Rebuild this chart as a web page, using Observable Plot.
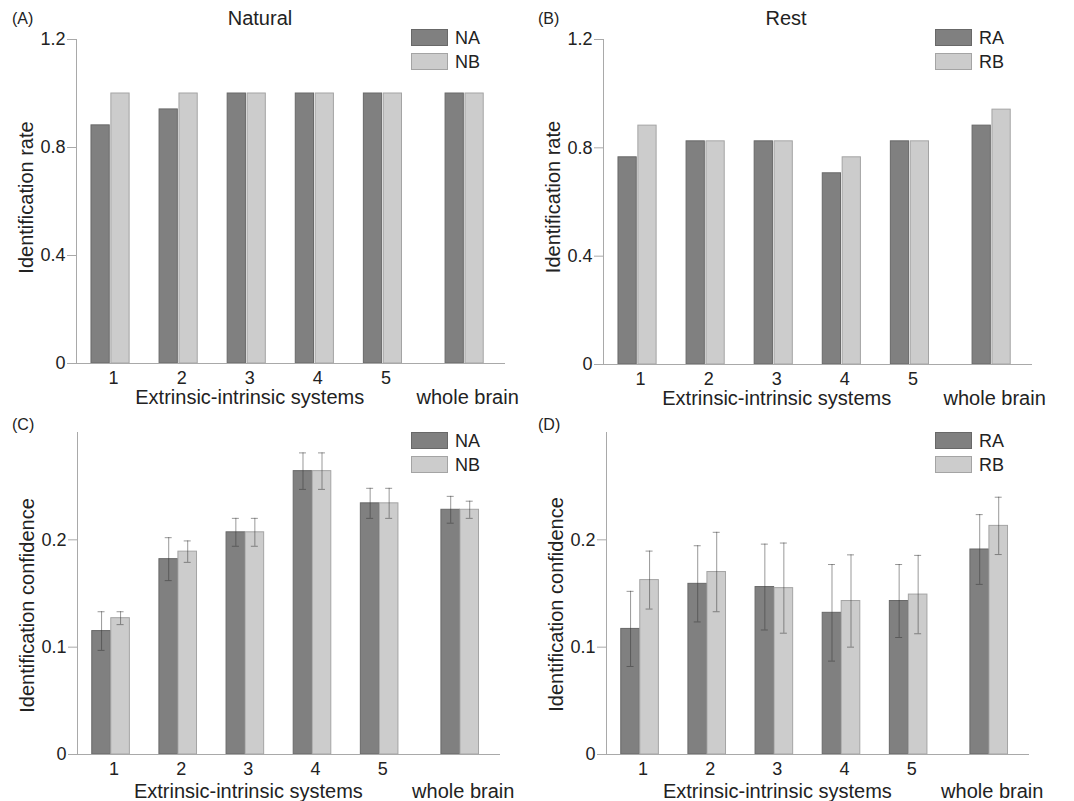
<!DOCTYPE html>
<html>
<head>
<meta charset="utf-8">
<script src="https://cdn.jsdelivr.net/npm/d3@7"></script>
<script src="https://cdn.jsdelivr.net/npm/@observablehq/plot@0.6"></script>
<style>
  html, body { margin: 0; padding: 0; background: #fff; }
  #fig { position: relative; width: 1074px; height: 801px; overflow: hidden; font-family: "Liberation Sans", Arial, sans-serif; color: #222; }
  .panel { position: absolute; }
  .ann { position: absolute; line-height: 1; white-space: nowrap; color: #222; }
  .legend { position: absolute; font-size: 18px; line-height: 1; }
  .legend .row { display: flex; align-items: center; height: 17px; margin-bottom: 7px; }
  .legend .sw { width: 35px; height: 15px; margin-right: 7px; }
</style>
</head>
<body>
<div id="fig"></div>
<script>
// ---------- data ----------
const groups = ["1", "2", "3", "4", "5", "whole brain"];
const naturalSeries = ["NA", "NB"];
const restSeries = ["RA", "RB"];

// (A) Natural – identification rate
const rateNA = [0.882, 0.941, 1, 1, 1, 1];
const rateNB = [1, 1, 1, 1, 1, 1];
// (B) Rest – identification rate
const rateRA = [0.765, 0.824, 0.824, 0.706, 0.824, 0.882];
const rateRB = [0.882, 0.824, 0.824, 0.765, 0.824, 0.941];
// (C) Natural – identification confidence (mean, error)
const confNA = [0.115, 0.182, 0.207, 0.264, 0.234, 0.228];
const confNAerr = [0.018, 0.020, 0.013, 0.017, 0.014, 0.0125];
const confNB = [0.127, 0.189, 0.207, 0.264, 0.234, 0.228];
const confNBerr = [0.006, 0.010, 0.013, 0.017, 0.014, 0.008];
// (D) Rest – identification confidence (mean, error)
const confRA = [0.117, 0.159, 0.156, 0.132, 0.143, 0.191];
const confRAerr = [0.035, 0.0355, 0.040, 0.045, 0.034, 0.0325];
const confRB = [0.1625, 0.170, 0.155, 0.143, 0.149, 0.213];
const confRBerr = [0.027, 0.037, 0.042, 0.043, 0.0365, 0.0267];

const rateTicks = [0, 0.4, 0.8, 1.2];
const confTicks = [0, 0.1, 0.2];
const xAxisLabel = "Extrinsic-intrinsic systems";

// ---------- style / layout ----------
const axisGray = "#a9a9a9";
const textColor = "#222";
const darkFill = "#808080", darkStroke = "#686868";
const lightFill = "#cccccc", lightStroke = "#a4a4a4";
const BW = 0.28;          // bar width in slot units
const CAP = 0.052;        // error-bar cap half width
const slot = i => i + 1 + (i === groups.length - 1 ? 0.2 : 0);
const xDomain = [0.5, 6.8];
const fmt = d => d === 0 ? "0" : d3.format(".1f")(d);

const fig = document.getElementById("fig");

function makePanel(cfg) {
  const rows = (vals, errs, s) => groups.map((g, i) => ({
    g, p: slot(i), s, v: vals[i], e: errs ? errs[i] : 0
  }));
  const rA = rows(cfg.A, cfg.eA, 0);
  const rB = rows(cfg.B, cfg.eB, 1);
  const gap = cfg.gap;
  const x1 = d => d.s ? d.p + gap : d.p - BW;
  const x2 = d => d.s ? d.p + BW : d.p - gap;
  const cx = d => (x1(d) + x2(d)) / 2;

  const marks = [
    Plot.rectY(rA, {x1, x2, y: "v", fill: darkFill, stroke: darkStroke, strokeWidth: 1}),
    Plot.rectY(rB, {x1, x2, y: "v", fill: lightFill, stroke: lightStroke, strokeWidth: 1}),
  ];
  if (cfg.eA) {
    for (const r of [rA, rB]) {
      marks.push(
        Plot.ruleX(r, {x: cx, y1: d => d.v - d.e, y2: d => d.v + d.e, stroke: "#333", strokeOpacity: 0.5}),
        Plot.ruleY(r, {y: d => d.v + d.e, x1: d => cx(d) - CAP, x2: d => cx(d) + CAP, stroke: "#333", strokeOpacity: 0.5}),
        Plot.ruleY(r, {y: d => d.v - d.e, x1: d => cx(d) - CAP, x2: d => cx(d) + CAP, stroke: "#333", strokeOpacity: 0.5})
      );
    }
  }
  marks.push(
    Plot.ruleY([0], {stroke: axisGray}),
    Plot.ruleX([xDomain[0]], {stroke: axisGray}),
    Plot.axisY({ticks: cfg.yTicks, tickSize: 9, tickPadding: 2, tickFormat: fmt, fontSize: 18,
      stroke: axisGray, fill: textColor, label: null}),
    Plot.axisX({ticks: groups.slice(0, 5).map((g, i) => slot(i)), tickSize: 0, tickPadding: 8,
      tickFormat: p => groups[Math.round(p) - 1], fontSize: 18, fill: textColor, label: null, dx: 3}),
    Plot.text([{x: slot(2), t: xAxisLabel}, {x: slot(5), t: groups[5]}], {
      x: "x", text: "t", frameAnchor: "bottom", textAnchor: "middle", lineAnchor: "bottom", dy: cfg.xLabelDy, dx: 3,
      fontSize: 20, fill: textColor}),
    Plot.text([cfg.yLabel], {text: d => d, frameAnchor: "left", textAnchor: "middle", lineAnchor: "middle",
      rotate: -90, dx: -50, dy: cfg.yLabelDy, fontSize: 20, fill: textColor})
  );

  const svg = Plot.plot({
    width: cfg.width, height: cfg.height,
    marginLeft: cfg.m[0], marginRight: cfg.m[1], marginTop: cfg.m[2], marginBottom: cfg.m[3],
    x: {domain: xDomain},
    y: {domain: cfg.yDomain},
    style: {background: "transparent", overflow: "visible", fontFamily: "'Liberation Sans', Arial, sans-serif", color: textColor},
    marks
  });
  const wrap = document.createElement("div");
  wrap.className = "panel";
  wrap.style.left = cfg.left + "px";
  wrap.style.top = cfg.top + "px";
  wrap.appendChild(svg);
  fig.appendChild(wrap);

  // panel letter
  const letter = document.createElement("div");
  letter.className = "ann";
  letter.style.fontSize = "16px";
  letter.style.left = cfg.letterPos[0] + "px";
  letter.style.top = cfg.letterPos[1] + "px";
  letter.textContent = cfg.letter;
  fig.appendChild(letter);

  // title
  if (cfg.title) {
    const t = document.createElement("div");
    t.className = "ann";
    t.style.fontSize = "20px";
    t.style.left = (cfg.titleX - 100) + "px";
    t.style.width = "200px";
    t.style.textAlign = "center";
    t.style.top = "8px";
    t.textContent = cfg.title;
    fig.appendChild(t);
  }

  // legend
  const lg = document.createElement("div");
  lg.className = "legend";
  lg.style.left = cfg.legendPos[0] + "px";
  lg.style.top = cfg.legendPos[1] + "px";
  cfg.series.forEach((name, k) => {
    const row = document.createElement("div");
    row.className = "row";
    const sw = document.createElement("div");
    sw.className = "sw";
    sw.style.background = k ? lightFill : darkFill;
    sw.style.border = "1px solid " + (k ? lightStroke : darkStroke);
    const lab = document.createElement("span");
    lab.textContent = name;
    row.appendChild(sw); row.appendChild(lab);
    lg.appendChild(row);
  });
  fig.appendChild(lg);
}

makePanel({left: 0, top: 0, width: 537, height: 400, m: [76, 32, 39, 37],
  yDomain: [0, 1.2], yTicks: rateTicks, yLabel: "Identification rate", yLabelDy: -4, xLabelDy: 40,
  A: rateNA, B: rateNB, gap: 0.012, series: naturalSeries,
  letter: "(A)", letterPos: [12, 11], title: "Natural", titleX: 260, legendPos: [411, 29]});

makePanel({left: 537, top: 0, width: 537, height: 400, m: [66, 42, 39, 36],
  yDomain: [0, 1.2], yTicks: rateTicks, yLabel: "Identification rate", yLabelDy: -5, xLabelDy: 40,
  A: rateRA, B: rateRB, gap: 0.012, series: restSeries,
  letter: "(B)", letterPos: [538, 11], title: "Rest", titleX: 786, legendPos: [935, 29]});

makePanel({left: 0, top: 400, width: 537, height: 401, m: [77, 37, 32, 47],
  yDomain: [0, 0.3], yTicks: confTicks, yLabel: "Identification confidence", yLabelDy: 12, xLabelDy: 43,
  A: confNA, B: confNB, eA: confNAerr, eB: confNBerr, gap: 0.003, series: naturalSeries,
  letter: "(C)", letterPos: [12, 417], legendPos: [411, 432]});

makePanel({left: 537, top: 400, width: 537, height: 401, m: [69, 45, 32, 47],
  yDomain: [0, 0.3], yTicks: confTicks, yLabel: "Identification confidence", yLabelDy: 11, xLabelDy: 43,
  A: confRA, B: confRB, eA: confRAerr, eB: confRBerr, gap: 0.003, series: restSeries,
  letter: "(D)", letterPos: [538, 417], legendPos: [935, 432]});
</script>
</body>
</html>
